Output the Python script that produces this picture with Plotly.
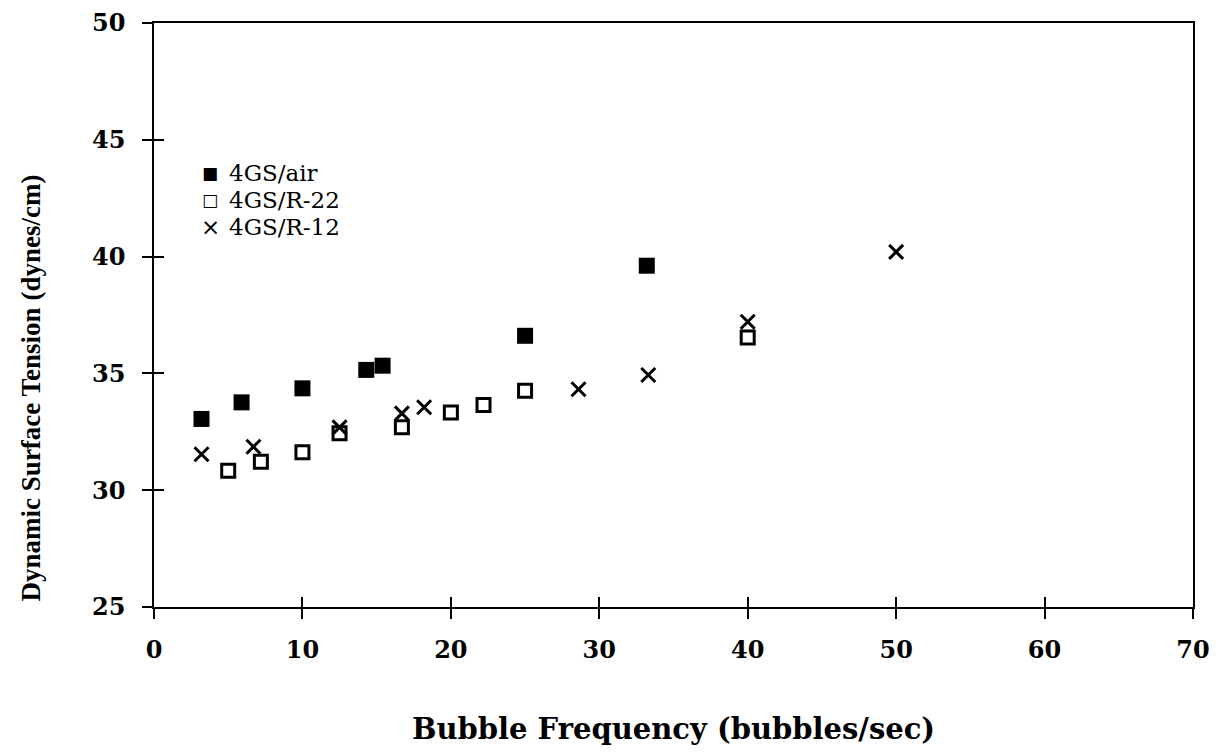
import plotly.graph_objects as go

# Bubble frequency (bubbles/sec) and dynamic surface tension (dynes/cm)
air_x = [3.2, 5.9, 10.0, 14.3, 15.4, 25.0, 33.2]
air_y = [33.05, 33.76, 34.36, 35.15, 35.33, 36.61, 39.61]

r22_x = [5.0, 7.2, 10.0, 12.5, 16.7, 20.0, 22.2, 25.0, 40.0]
r22_y = [30.83, 31.22, 31.62, 32.44, 32.69, 33.33, 33.65, 34.26, 36.54]

r12_x = [3.2, 6.7, 12.5, 16.7, 18.2, 28.6, 33.3, 40.0, 50.0]
r12_y = [31.54, 31.86, 32.69, 33.29, 33.55, 34.32, 34.93, 37.21, 40.2]

x_ticks = [0, 10, 20, 30, 40, 50, 60, 70]
y_ticks = [25, 30, 35, 40, 45, 50]

series_names = ["4GS/air", "4GS/R-22", "4GS/R-12"]
legend_glyphs = ["\u25A0", "\u25A1", "\u00D7"]

WIDE = "DejaVu Serif, serif"
TIMES = "Liberation Serif, Times New Roman, serif"

fig = go.Figure()
fig.add_trace(go.Scatter(
    x=air_x, y=air_y, mode="markers", name=series_names[0],
    marker=dict(symbol="square", size=16, color="black", line=dict(width=0)),
))
fig.add_trace(go.Scatter(
    x=r22_x, y=r22_y, mode="markers", name=series_names[1],
    marker=dict(symbol="square-open", size=13, color="black", line=dict(width=3, color="black")),
))
fig.add_trace(go.Scatter(
    x=r12_x, y=r12_y, mode="markers", name=series_names[2],
    marker=dict(symbol="x-thin", size=14, color="black", line=dict(width=3, color="black")),
))

axis_common = dict(
    showgrid=False, zeroline=False, showline=True, linecolor="black", linewidth=1.5,
    ticks="outside", ticklen=10, tickwidth=1.5, tickcolor="black", automargin=False,
)

fig.update_layout(
    width=1225, height=753,
    margin=dict(l=154, r=32, t=23, b=146),
    paper_bgcolor="white", plot_bgcolor="white",
    font=dict(family=WIDE, color="black"),
    showlegend=False,
    xaxis=dict(
        range=[0, 70], tickvals=x_ticks, mirror=True,
        tickfont=dict(size=24, family=WIDE, weight="bold"),
        ticklabelstandoff=10,
        title=dict(text="<b>Bubble Frequency (bubbles/sec)</b>",
                   font=dict(size=29, family=WIDE), standoff=56),
        **axis_common,
    ),
    yaxis=dict(
        range=[25, 50], tickvals=y_ticks, mirror=True,
        tickfont=dict(size=24, family=WIDE, weight="bold"),
        ticklabelstandoff=12,
        **axis_common,
    ),
    # inner halves of the crossing tick marks
    xaxis2=dict(
        overlaying="x", range=[0, 70], tickvals=x_ticks, showticklabels=False,
        showgrid=False, zeroline=False, showline=False, automargin=False,
        ticks="inside", ticklen=10, tickwidth=1.5, tickcolor="black", side="bottom",
    ),
    yaxis2=dict(
        overlaying="y", range=[25, 50], tickvals=y_ticks, showticklabels=False,
        showgrid=False, zeroline=False, showline=False, automargin=False,
        ticks="inside", ticklen=10, tickwidth=1.5, tickcolor="black", side="left",
    ),
)

# invisible trace that activates the overlay axes carrying the inner ticks
fig.add_trace(go.Scatter(x=[None], y=[None], xaxis="x2", yaxis="y2",
                         showlegend=False, hoverinfo="skip"))

# vertical axis title, set a little below the middle of the plot
fig.add_annotation(
    xref="paper", yref="paper", x=-0.118, y=0.375, xanchor="center", yanchor="middle",
    textangle=-90, showarrow=False,
    text="<b>Dynamic Surface Tension (dynes/cm)</b>",
    font=dict(size=27, family=TIMES, color="black"),
)

# compact legend block in the upper left of the plot
legend_top = 0.743
legend_step = 0.046
for i, (glyph, name) in enumerate(zip(legend_glyphs, series_names)):
    row_y = legend_top - i * legend_step
    fig.add_annotation(
        xref="paper", yref="paper", x=0.054, y=row_y,
        xanchor="center", yanchor="middle", showarrow=False,
        text=glyph, font=dict(size=17 if i < 2 else 23, family="DejaVu Sans", color="black"),
    )
    fig.add_annotation(
        xref="paper", yref="paper", x=0.0705, y=row_y,
        xanchor="left", yanchor="middle", showarrow=False,
        text=name, font=dict(size=23, family=WIDE, color="black"),
    )

fig.write_html("out.html")
